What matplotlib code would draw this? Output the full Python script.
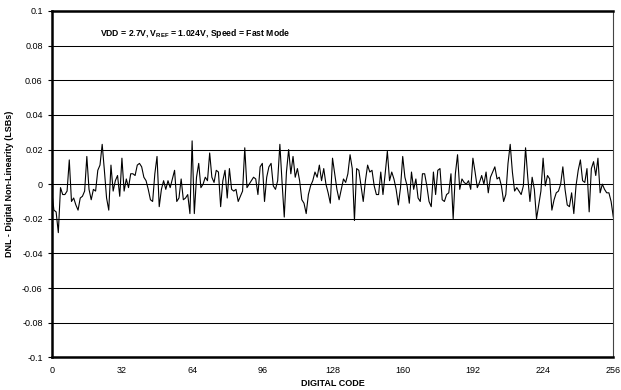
import numpy as np
import matplotlib
matplotlib.use("Agg")
import matplotlib.pyplot as plt

plt.rcParams['font.family'] = ['Liberation Sans', 'DejaVu Sans']
plt.rcParams['mathtext.fontset'] = 'custom'
plt.rcParams['mathtext.rm'] = 'Liberation Sans'
plt.rcParams['mathtext.bf'] = 'Liberation Sans:bold'

# DNL per digital code (LSBs)
codes = np.arange(0, 257)
dnl = [
    -0.004, -0.015, -0.016, -0.028, -0.002, -0.006, -0.006, -0.004, 0.014, -0.010,
    -0.008, -0.012, -0.015, -0.008, -0.007, -0.004, 0.016, -0.003, -0.009, -0.003,
    -0.004, 0.008, 0.011, 0.023, 0.008, -0.008, -0.015, 0.011, -0.004, 0.002,
    0.005, -0.007, 0.015, -0.004, 0.003, -0.002, 0.006, 0.006, 0.005, 0.011,
    0.012, 0.010, 0.004, 0.002, -0.003, -0.009, -0.010, 0.006, 0.016, -0.013,
    -0.003, 0.002, -0.003, 0.002, -0.002, 0.003, 0.008, -0.010, -0.008, 0.003,
    -0.009, -0.008, -0.006, -0.017, 0.025, -0.017, 0.004, 0.012, -0.002, 0.000,
    0.004, 0.002, 0.018, 0.004, 0.001, 0.008, 0.007, -0.013, 0.002, 0.008,
    -0.008, 0.009, -0.003, -0.004, -0.003, -0.010, -0.007, -0.004, 0.021, -0.002,
    0.000, 0.002, 0.004, 0.003, -0.006, 0.010, 0.012, -0.010, 0.004, 0.010,
    0.012, -0.001, -0.003, 0.002, 0.023, 0.001, -0.019, 0.007, 0.020, 0.006,
    0.016, 0.004, 0.009, 0.002, -0.009, -0.011, -0.017, -0.006, -0.001, 0.002,
    0.007, 0.004, 0.011, 0.002, 0.009, 0.000, -0.005, -0.011, 0.015, 0.006,
    -0.003, -0.009, -0.003, 0.003, 0.001, 0.006, 0.017, 0.009, -0.021, 0.009,
    0.008, -0.001, -0.010, 0.002, 0.011, 0.007, 0.008, -0.001, -0.006, -0.006,
    0.007, -0.006, 0.006, 0.019, 0.002, 0.007, 0.003, -0.003, -0.012, -0.002,
    0.016, 0.004, -0.001, -0.011, 0.007, -0.003, 0.003, -0.008, -0.010, 0.006,
    0.006, -0.001, -0.010, -0.013, 0.007, -0.006, 0.008, 0.009, -0.009, -0.010,
    -0.006, -0.005, 0.006, -0.020, 0.006, 0.017, -0.003, 0.003, 0.001, 0.000,
    0.002, -0.003, 0.015, 0.007, -0.002, 0.001, 0.005, 0.000, 0.007, -0.005,
    0.004, 0.007, 0.010, 0.003, 0.004, -0.001, -0.010, -0.006, 0.012, 0.023,
    0.007, -0.004, -0.002, -0.004, -0.006, -0.001, 0.021, 0.004, -0.010, 0.004,
    -0.003, -0.020, -0.012, -0.004, 0.015, -0.001, 0.005, 0.003, -0.015, -0.009,
    -0.005, -0.004, 0.000, 0.010, -0.003, -0.012, -0.013, -0.005, -0.017, -0.001,
    0.008, 0.014, 0.002, 0.001, 0.009, -0.016, 0.009, 0.013, 0.005, 0.015,
    -0.005, 0.000, -0.003, -0.005, -0.005, -0.010, -0.019,
]
xticks = np.arange(0, 257, 32)
yticks = np.arange(-0.1, 0.1001, 0.02)
ytick_labels = ['-0.1', '-0.08', '-0.06', '-0.04', '-0.02', '0',
                '0.02', '0.04', '0.06', '0.08', '0.1']

fig = plt.figure(figsize=(6.21, 3.9), dpi=100)
ax = fig.add_axes([0.0833, 0.0838, 0.9043, 0.888])

# horizontal grid
for yv in yticks:
    ax.axhline(yv, color='black', lw=0.75, zorder=1)

ax.plot(codes, dnl, color='black', lw=0.8, zorder=3)

ax.set_xlim(0, 256)
ax.set_ylim(-0.1, 0.1)
ax.set_xticks(xticks)
ax.set_yticks(yticks)
ax.set_yticklabels(ytick_labels)
ax.tick_params(axis='both', labelsize=6.5, colors='black', length=3, width=0.8)
ax.tick_params(axis='x', length=0, pad=6)

ax.spines['left'].set_linewidth(1.8)
ax.spines['bottom'].set_linewidth(1.8)
ax.spines['top'].set_linewidth(1.8)
ax.spines['right'].set_linewidth(0.8)
ax.spines['right'].set_color('#444444')

ax.set_xlabel('DIGITAL CODE', fontsize=6.5, fontweight='bold', labelpad=3)
ax.set_ylabel('DNL - Digital Non-Linearity (LSBs)', fontsize=6.5,
              fontweight='bold', labelpad=6)

ax.text(22, 0.087, r'VDD = 2.7V, $\mathbf{V_{REF}}$ = 1.024V, Speed = Fast Mode',
        fontsize=6.2, fontweight='bold', va='center', ha='left', zorder=4)

fig.savefig('out.png', dpi=100)
